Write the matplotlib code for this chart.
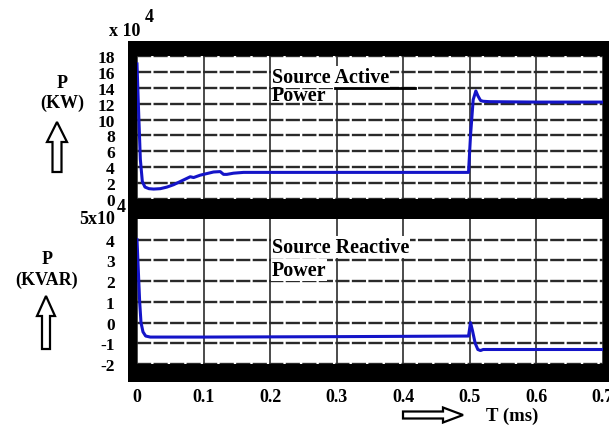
import matplotlib.pyplot as plt
from matplotlib.patches import Rectangle, FancyArrow
from matplotlib.lines import Line2D

# --- data (values in x10^4) ---
t_active = [0, 0.002, 0.005, 0.008, 0.012, 0.018, 0.025, 0.035, 0.045, 0.055, 0.065,
            0.075, 0.08, 0.085, 0.095, 0.105, 0.115, 0.125, 0.13, 0.135, 0.145,
            0.16, 0.2, 0.3, 0.4, 0.498, 0.501, 0.505, 0.509, 0.512, 0.516, 0.52,
            0.53, 0.6, 0.7]
p_active = [17.0, 12.0, 5.0, 2.2, 1.5, 1.3, 1.25, 1.3, 1.5, 1.8, 2.2,
            2.6, 2.8, 2.7, 3.0, 3.2, 3.4, 3.45, 3.1, 3.1, 3.25,
            3.35, 3.35, 3.35, 3.35, 3.35, 8.0, 12.5, 13.6, 13.0, 12.4, 12.3,
            12.25, 12.2, 12.2]

t_reactive = [0, 0.002, 0.004, 0.006, 0.009, 0.013, 0.02, 0.1, 0.3, 0.498,
              0.501, 0.504, 0.508, 0.512, 0.516, 0.52, 0.6, 0.7]
q_reactive = [4.0, 2.5, 1.0, 0.0, -0.45, -0.65, -0.7, -0.7, -0.68, -0.65,
              0.0, -0.4, -1.0, -1.3, -1.35, -1.3, -1.3, -1.3]

x_ticks = [0, 0.1, 0.2, 0.3, 0.4, 0.5, 0.6, 0.7]
x_labels = ['0', '0.1', '0.2', '0.3', '0.4', '0.5', '0.6', '0.7']
top_ticks = [0, 2, 4, 6, 8, 10, 12, 14, 16, 18]
bot_ticks = [-2, -1, 0, 1, 2, 3, 4]

W, H = 609, 427
FONT = 'Liberation Serif'
BLUE = '#1414c8'


def fx(px):
    return px / W


def fy(py):
    return 1 - py / H


fig = plt.figure(figsize=(W / 100, H / 100), dpi=100)
fig.patch.set_facecolor('white')

# black scope frame behind both axes
fig.patches.append(Rectangle((fx(128), fy(383)), 1 - fx(128), fy(42) - fy(383),
                             transform=fig.transFigure, facecolor='black',
                             edgecolor='none', zorder=-1))

ax1 = fig.add_axes([fx(137), fy(200), fx(603) - fx(137), fy(57) - fy(200)])
ax2 = fig.add_axes([fx(137), fy(365), fx(603) - fx(137), fy(220) - fy(365)])

ax1.plot(t_active, p_active, color=BLUE, lw=2.2, zorder=3)
ax2.plot(t_reactive, q_reactive, color=BLUE, lw=2.2, zorder=3)

ax1.set_ylim(0, 18)
ax2.set_ylim(-2, 5)
for ax in (ax1, ax2):
    ax.set_xlim(0, 0.7)
    ax.set_facecolor('white')
    ax.set_xticks(x_ticks)
    ax.grid(axis='y', color='#2a2a2a', lw=1.7, ls=(0, (6, 1)))
    ax.grid(axis='x', color='#1a1a1a', lw=1.1)
    for s in ax.spines.values():
        s.set_visible(False)
    ax.tick_params(length=0, pad=16)
    ax.set_axisbelow(True)

ax1.set_yticks(top_ticks)
ax1.set_yticklabels([str(v) for v in top_ticks], family=FONT, weight='bold', fontsize=12.5)
ax1.set_xticklabels([])
ax2.set_yticks(bot_ticks)
ax2.set_yticklabels([str(v) for v in bot_ticks], family=FONT, weight='bold', fontsize=12.5)
ax2.set_xticklabels(x_labels, family=FONT, weight='bold', fontsize=13)
ax2.tick_params(axis='x', pad=17)

bold = dict(family=FONT, weight='bold', color='black')

# exponent labels
fig.text(fx(125), fy(32), 'x 10', ha='center', va='center', fontsize=13, **bold)
fig.text(fx(149), fy(17), '4', ha='center', va='center', fontsize=13, **bold)
fig.text(fx(97), fy(220), '5x10', ha='center', va='center', fontsize=13, **bold)
fig.text(fx(121), fy(208), '4', ha='center', va='center', fontsize=13, **bold)

# left axis titles
fig.text(fx(62), fy(83), 'P', ha='center', va='center', fontsize=13, **bold)
fig.text(fx(62), fy(103), '(KW)', ha='center', va='center', fontsize=13, **bold)
fig.text(fx(47), fy(259), 'P', ha='center', va='center', fontsize=13, **bold)
fig.text(fx(47), fy(280), '(KVAR)', ha='center', va='center', fontsize=13, **bold)
fig.text(fx(512), fy(416), 'T (ms)', ha='center', va='center', fontsize=13.5, **bold)

# hollow arrows, drawn in inches so they keep their shape
inch = fig.dpi_scale_trans
arrow_kw = dict(facecolor='white', edgecolor='black', lw=1.6,
                length_includes_head=True, transform=inch, zorder=5)
fig.patches.append(FancyArrow(0.57, (H - 173) / 100, 0, 0.50, width=0.09,
                              head_width=0.20, head_length=0.20, **arrow_kw))
fig.patches.append(FancyArrow(0.46, (H - 350) / 100, 0, 0.53, width=0.08,
                              head_width=0.18, head_length=0.20, **arrow_kw))
fig.patches.append(FancyArrow(4.03, (H - 416) / 100, 0.60, 0, width=0.07,
                              head_width=0.15, head_length=0.20, **arrow_kw))

# plot annotations
box = dict(facecolor='white', edgecolor='none', pad=0.5)
fig.text(fx(272), fy(78), 'Source Active', ha='left', va='center', fontsize=14.5,
         bbox=box, zorder=6, **bold)
fig.text(fx(272), fy(96), 'Power', ha='left', va='center', fontsize=14.5,
         zorder=6, **bold)
fig.text(fx(272), fy(248), 'Source Reactive', ha='left', va='center', fontsize=14.5,
         bbox=box, zorder=6, **bold)
fig.text(fx(272), fy(271), 'Power', ha='left', va='center', fontsize=14.5,
         bbox=box, zorder=6, **bold)
fig.lines.append(Line2D([fx(335), fx(415)], [fy(89), fy(89)], color='black', lw=2,
                        transform=fig.transFigure, zorder=7))

fig.savefig('out.png', dpi=100)
